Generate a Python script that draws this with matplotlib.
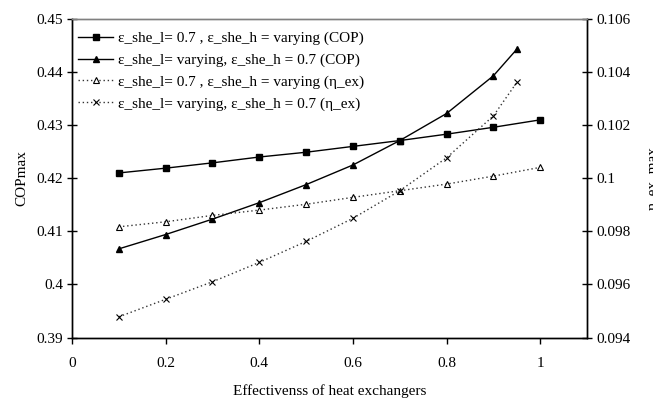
import matplotlib
matplotlib.use("Agg")
import matplotlib.pyplot as plt
from matplotlib.ticker import FuncFormatter, MultipleLocator

plt.rcParams['font.family'] = ['Liberation Serif', 'DejaVu Serif']
plt.rcParams['font.size'] = 11

x_full = [0.1, 0.2, 0.3, 0.4, 0.5, 0.6, 0.7, 0.8, 0.9, 1.0]
x_part = [0.1, 0.2, 0.3, 0.4, 0.5, 0.6, 0.7, 0.8, 0.9, 0.95]

cop_h_varying = [0.4210, 0.4219, 0.4229, 0.4240, 0.4249, 0.4260, 0.4271, 0.4283, 0.4296, 0.4310]
cop_l_varying = [0.4067, 0.4094, 0.4123, 0.4154, 0.4188, 0.4225, 0.4271, 0.4322, 0.4393, 0.4443]
eta_h_varying = [0.09817, 0.09836, 0.09860, 0.09880, 0.09902, 0.09928, 0.09953, 0.09978, 0.10008, 0.10041]
eta_l_varying = [0.09478, 0.09544, 0.09610, 0.09683, 0.09762, 0.09849, 0.09953, 0.10077, 0.10235, 0.10361]

labels = [
    "ε_she_l= 0.7 , ε_she_h = varying (COP)",
    "ε_she_l= varying, ε_she_h = 0.7 (COP)",
    "ε_she_l= 0.7 , ε_she_h = varying (η_ex)",
    "ε_she_l= varying, ε_she_h = 0.7 (η_ex)",
]

fig = plt.figure(figsize=(6.53, 4.03), dpi=100)
ax = fig.add_axes([0.1103, 0.1625, 0.899 - 0.1103, 0.9529 - 0.1625])
ax2 = ax.twinx()

l1, = ax.plot(x_full, cop_h_varying, color='black', lw=1, marker='s', ms=4.5,
              mfc='black', mec='black')
l2, = ax.plot(x_part, cop_l_varying, color='black', lw=1, marker='^', ms=5,
              mfc='black', mec='black')
l3, = ax2.plot(x_full, eta_h_varying, color='#333333', lw=1, ls=(0, (1, 2)), marker='^', ms=4.5,
               mfc='white', mec='black', mew=0.8)
l4, = ax2.plot(x_part, eta_l_varying, color='#333333', lw=1, ls=(0, (1, 2)), marker='x', ms=4.5,
               mec='black', mew=0.8)

ax.set_xlim(0, 1.1)
ax.set_ylim(0.39, 0.45)
ax2.set_ylim(0.094, 0.106)
ax.set_xticks([0, 0.2, 0.4, 0.6, 0.8, 1.0])
ax.yaxis.set_major_locator(MultipleLocator(0.01))
ax2.yaxis.set_major_locator(MultipleLocator(0.002))
fmt = FuncFormatter(lambda v, p: ('%.4g' % v))
ax.xaxis.set_major_formatter(fmt)
ax.yaxis.set_major_formatter(fmt)
ax2.yaxis.set_major_formatter(fmt)

for a in (ax, ax2):
    a.spines['top'].set_color('#808080')
    a.spines['top'].set_linewidth(1)
    for s in ('left', 'right', 'bottom'):
        a.spines[s].set_color('black')
        a.spines[s].set_linewidth(1)

ax.tick_params(axis='x', direction='out', length=4, width=1, pad=10, labelsize=11)
ax.tick_params(axis='y', direction='inout', length=7, width=1, pad=3, labelsize=11)
ax2.tick_params(axis='y', direction='inout', length=7, width=1, pad=3, labelsize=11)

ax.set_xlabel("Effectivenss of heat exchangers", fontsize=11, labelpad=10)
ax.set_ylabel("COPmax", fontsize=11, labelpad=6)
ax2.set_ylabel("η_ex_max", fontsize=11, labelpad=12)

leg = ax2.legend([l1, l2, l3, l4], labels, loc='upper left',
                 bbox_to_anchor=(0.0, 0.98), frameon=False, fontsize=11,
                 handlelength=2.3, handletextpad=0.3, labelspacing=0.52,
                 borderaxespad=0.2, borderpad=0.2)

fig.savefig("out.png", dpi=100)
